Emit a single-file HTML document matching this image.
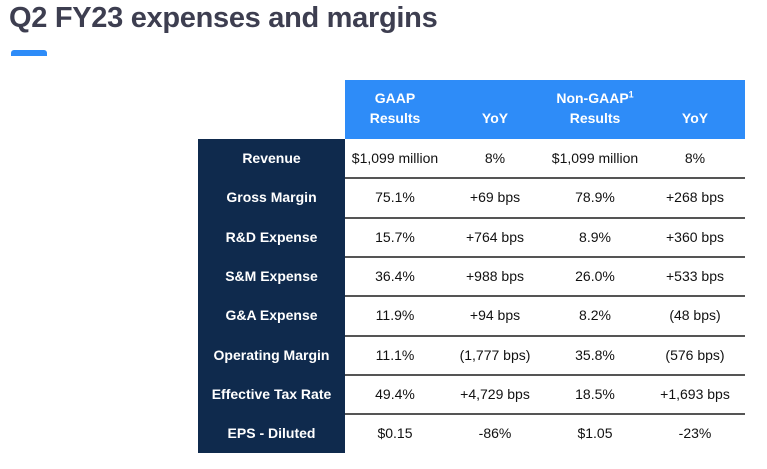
<!DOCTYPE html>
<html><head><meta charset="utf-8"><style>
body{margin:0;width:767px;height:469px;background:#fff;font-family:"Liberation Sans",sans-serif;position:relative;overflow:hidden}
h1{position:absolute;left:9px;top:2px;margin:0;font-size:29px;font-weight:bold;color:#3d3e50;letter-spacing:-0.3px}
.ul{position:absolute;left:11px;top:50px;width:36px;height:6px;background:#2e8cf8;border-radius:3px 3px 0 0}
.hdr{position:absolute;left:345px;top:80px;width:400px;height:59px;background:#2e8cf8}
.h{position:absolute;top:80px;height:59px;color:#fff;font-weight:bold;font-size:14px;text-align:center;box-sizing:border-box;line-height:20px}
.h span{position:absolute;left:0;right:0;bottom:11px;display:block}
.side{position:absolute;left:198px;top:139px;width:147px;height:314px;background:#0f2a4d}
.r{position:absolute;left:198px;width:547px;height:39.3px;font-size:14px;color:#111}
.r div{position:absolute;top:0;height:39px;line-height:39px;text-align:center}
.r .l{left:0;width:147px;color:#fff;font-weight:bold}
.sep{position:absolute;left:345px;width:400px;height:2px;background:#555}
</style></head><body>
<h1>Q2 FY23 expenses and margins</h1>
<div class="ul"></div>
<div class="hdr"></div>
<div class="h" style="left:345px;width:100px"><span>GAAP<br>Results</span></div>
<div class="h" style="left:445px;width:100px"><span>YoY</span></div>
<div class="h" style="left:545px;width:100px"><span>Non-GAAP<sup style="font-size:9px;line-height:0">1</sup><br>Results</span></div>
<div class="h" style="left:645px;width:100px"><span>YoY</span></div>
<div class="side"></div>
<div id="rows"></div>
<script>
const labels=["Revenue","Gross Margin","R&D Expense","S&M Expense","G&A Expense","Operating Margin","Effective Tax Rate","EPS - Diluted"];
const gaap=["$1,099 million","75.1%","15.7%","36.4%","11.9%","11.1%","49.4%","$0.15"];
const gaapYoy=["8%","+69 bps","+764 bps","+988 bps","+94 bps","(1,777 bps)","+4,729 bps","-86%"];
const ng=["$1,099 million","78.9%","8.9%","26.0%","8.2%","35.8%","18.5%","$1.05"];
const ngYoy=["8%","+268 bps","+360 bps","+533 bps","(48 bps)","(576 bps)","+1,693 bps","-23%"];
const c=document.getElementById('rows');
labels.forEach((lab,i)=>{
 const top=139+i*39.3;
 const r=document.createElement('div');r.className='r';r.style.top=top+'px';
 
 
 const cells=[[lab,'l',0,147],[gaap[i],'',147,100],[gaapYoy[i],'',247,100],[ng[i],'',347,100],[ngYoy[i],'',447,100]];
 cells.forEach(([t,cl,x,w])=>{const d=document.createElement('div');if(cl)d.className=cl;d.style.left=x+'px';d.style.width=w+'px';d.textContent=t;
 
 
 r.appendChild(d);});
 c.appendChild(r);
 if(i<labels.length-1){const s=document.createElement('div');s.className='sep';s.style.top=(top+39.3-1)+'px';
 
 
 c.appendChild(s);}
});
</script>
</body></html>
